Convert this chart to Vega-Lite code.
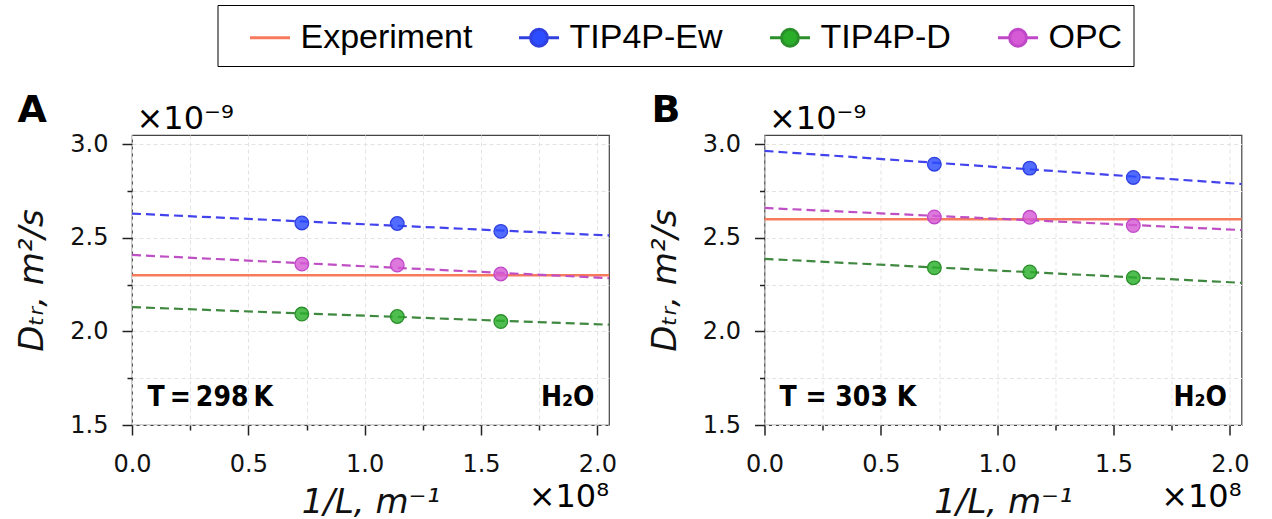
{
  "$schema": "https://vega.github.io/schema/vega-lite/v6.json",
  "background": "white",
  "padding": {"left": 15, "top": 4, "right": 5, "bottom": 0},
  "datasets": {
    "points": [
      {"panel": "A", "model": "TIP4P-Ew", "x": 0.73, "y": 2.58},
      {"panel": "A", "model": "TIP4P-Ew", "x": 1.14, "y": 2.577},
      {"panel": "A", "model": "TIP4P-Ew", "x": 1.585, "y": 2.535},
      {"panel": "A", "model": "OPC", "x": 0.73, "y": 2.36},
      {"panel": "A", "model": "OPC", "x": 1.14, "y": 2.355},
      {"panel": "A", "model": "OPC", "x": 1.585, "y": 2.307},
      {"panel": "A", "model": "TIP4P-D", "x": 0.73, "y": 2.093},
      {"panel": "A", "model": "TIP4P-D", "x": 1.14, "y": 2.08},
      {"panel": "A", "model": "TIP4P-D", "x": 1.585, "y": 2.053},
      {"panel": "B", "model": "TIP4P-Ew", "x": 0.73, "y": 2.894},
      {"panel": "B", "model": "TIP4P-Ew", "x": 1.14, "y": 2.873},
      {"panel": "B", "model": "TIP4P-Ew", "x": 1.585, "y": 2.823},
      {"panel": "B", "model": "OPC", "x": 0.73, "y": 2.612},
      {"panel": "B", "model": "OPC", "x": 1.14, "y": 2.61},
      {"panel": "B", "model": "OPC", "x": 1.585, "y": 2.566},
      {"panel": "B", "model": "TIP4P-D", "x": 0.73, "y": 2.34},
      {"panel": "B", "model": "TIP4P-D", "x": 1.14, "y": 2.318},
      {"panel": "B", "model": "TIP4P-D", "x": 1.585, "y": 2.287}
    ],
    "fits": [
      {"panel": "A", "model": "TIP4P-Ew", "x": 0, "y": 2.63},
      {"panel": "A", "model": "TIP4P-Ew", "x": 2.05, "y": 2.513},
      {"panel": "A", "model": "OPC", "x": 0, "y": 2.409},
      {"panel": "A", "model": "OPC", "x": 2.05, "y": 2.285},
      {"panel": "A", "model": "TIP4P-D", "x": 0, "y": 2.13},
      {"panel": "A", "model": "TIP4P-D", "x": 2.05, "y": 2.036},
      {"panel": "B", "model": "TIP4P-Ew", "x": 0, "y": 2.965},
      {"panel": "B", "model": "TIP4P-Ew", "x": 2.05, "y": 2.788},
      {"panel": "B", "model": "OPC", "x": 0, "y": 2.66},
      {"panel": "B", "model": "OPC", "x": 2.05, "y": 2.542},
      {"panel": "B", "model": "TIP4P-D", "x": 0, "y": 2.388},
      {"panel": "B", "model": "TIP4P-D", "x": 2.05, "y": 2.26}
    ],
    "experiment": [
      {"panel": "A", "y": 2.3},
      {"panel": "B", "y": 2.6}
    ],
    "labels": [
      {"panel": "A", "letter": "A", "temp": "T\u2009=\u2009298\u2009K", "sample": "H₂O", "xm": "×10⁸", "ym": "×10⁻⁹"},
      {"panel": "B", "letter": "B", "temp": "T = 303 K", "sample": "H₂O", "xm": "×10⁸", "ym": "×10⁻⁹"}
    ]
  },
  "spacing": 155.5,
  "bounds": "flush",
  "resolve": {
    "scale": {"fill": "shared", "stroke": "shared", "shape": "shared", "color": "shared"},
    "legend": {"fill": "shared", "stroke": "shared", "shape": "shared"}
  },
  "hconcat": [
    {
      "width": 477,
      "height": 290,
      "layer": [
        {
          "data": {"name": "experiment"},
          "transform": [{"filter": "datum.panel == 'A'"}],
          "mark": {"type": "rule", "color": "#f87a5c", "strokeWidth": 2.5},
          "encoding": {
            "y": {"field": "y", "type": "quantitative", "scale": {"domain": [1.5, 3.05], "nice": false, "zero": false}}
          }
        },
        {
          "data": {"name": "fits"},
          "transform": [{"filter": "datum.panel == 'A'"}],
          "mark": {"type": "line", "strokeDash": [9, 5], "strokeWidth": 2.2},
          "encoding": {
            "x": {"field": "x", "type": "quantitative", "scale": {"domain": [0, 2.05], "nice": false, "zero": false},
              "axis": {"values": [0, 0.25, 0.5, 0.75, 1, 1.25, 1.5, 1.75, 2], "labelExpr": "(datum.value*2)%1==0 ? format(datum.value,'.1f') : ''",
                "tickSize": {"condition": {"test": "(datum.value*2)%1!=0", "value": 5}, "value": 10},
                "labelPadding": 17, "labelOverlap": false, "labelFlush": false, "title": "1/L, m⁻¹", "titleFontSize": 34, "titlePadding": 9}},
            "y": {"field": "y", "type": "quantitative", "scale": {"domain": [1.5, 3.05], "nice": false, "zero": false},
              "axis": {"values": [1.5, 1.75, 2, 2.25, 2.5, 2.75, 3], "labelExpr": "(datum.value*2)%1==0 ? format(datum.value,'.1f') : ''",
                "tickSize": {"condition": {"test": "(datum.value*2)%1!=0", "value": 5}, "value": 10},
                "labelPadding": 14, "labelOverlap": false, "labelFlush": false, "title": "Dₜᵣ, m²/s", "titleFontSize": 34, "titlePadding": 20}},
            "color": {"field": "model", "type": "nominal", "scale": {"domain": ["TIP4P-Ew", "TIP4P-D", "OPC"], "range": ["#4343ee", "#3f883f", "#bf4fc4"]}, "legend": null},
            "detail": {"field": "model"}
          }
        },
        {
          "data": {"name": "points"},
          "transform": [{"filter": "datum.panel == 'A'"}],
          "mark": {"type": "point", "filled": true, "size": 185, "strokeWidth": 1.3, "fillOpacity": 0.82},
          "encoding": {
            "x": {"field": "x", "type": "quantitative", "scale": {"domain": [0, 2.05], "nice": false, "zero": false}},
            "y": {"field": "y", "type": "quantitative", "scale": {"domain": [1.5, 3.05], "nice": false, "zero": false}},
            "fill": {"field": "model", "type": "nominal", "scale": {"domain": ["Experiment", "TIP4P-Ew", "TIP4P-D", "OPC"], "range": ["#f87a5c", "#2b4cff", "#2aae2a", "#d65ad6"]}},
            "stroke": {"field": "model", "type": "nominal", "scale": {"domain": ["Experiment", "TIP4P-Ew", "TIP4P-D", "OPC"], "range": ["#f87a5c", "#3040e0", "#2a8f2a", "#c048c8"]}}
          }
        },
        {
          "data": {"values": []},
          "mark": {"type": "point", "filled": true, "strokeWidth": 3},
          "encoding": {
            "fill": {"field": "model", "type": "nominal", "scale": {"domain": ["Experiment", "TIP4P-Ew", "TIP4P-D", "OPC"], "range": ["#f87a5c", "#2b4cff", "#2aae2a", "#d65ad6"]},
              "legend": {"orient": "none", "legendX": 85.5, "legendY": -130, "direction": "horizontal", "title": null, "strokeColor": "black", "padding": 11, "symbolOffset": 20, "columnPadding": 25, "labelOffset": 9, "labelFont": "Liberation Sans", "labelFontSize": 34, "labelColor": "black", "symbolSize": 1600, "symbolStrokeWidth": 3, "symbolOpacity": 1, "labelLimit": 400}},
            "stroke": {"field": "model", "type": "nominal", "scale": {"domain": ["Experiment", "TIP4P-Ew", "TIP4P-D", "OPC"], "range": ["#f87a5c", "#3040e0", "#2a8f2a", "#c048c8"]},
              "legend": {"orient": "none", "legendX": 85.5, "legendY": -130, "direction": "horizontal", "title": null, "strokeColor": "black", "padding": 11, "symbolOffset": 20, "columnPadding": 25, "labelOffset": 9, "labelFont": "Liberation Sans", "labelFontSize": 34, "labelColor": "black", "symbolSize": 1600, "symbolStrokeWidth": 3, "symbolOpacity": 1, "labelLimit": 400}},
            "shape": {"field": "model", "type": "nominal", "scale": {"domain": ["Experiment", "TIP4P-Ew", "TIP4P-D", "OPC"], "range": ["M-1,0L1,0", "M-1,0L-0.42,0M0.42,0L1,0M-0.42,0A0.42,0.42,0,1,1,0.42,0A0.42,0.42,0,1,1,-0.42,0Z", "M-1,0L-0.42,0M0.42,0L1,0M-0.42,0A0.42,0.42,0,1,1,0.42,0A0.42,0.42,0,1,1,-0.42,0Z", "M-1,0L-0.42,0M0.42,0L1,0M-0.42,0A0.42,0.42,0,1,1,0.42,0A0.42,0.42,0,1,1,-0.42,0Z"]},
              "legend": {"orient": "none", "legendX": 85.5, "legendY": -130, "direction": "horizontal", "title": null, "strokeColor": "black", "padding": 11, "symbolOffset": 20, "columnPadding": 25, "labelOffset": 9, "labelFont": "Liberation Sans", "labelFontSize": 34, "labelColor": "black", "symbolSize": 1600, "symbolStrokeWidth": 3, "symbolOpacity": 1, "labelLimit": 400}}
          }
        },
        {
          "data": {"name": "labels"},
          "transform": [{"filter": "datum.panel == 'A'"}],
          "mark": {"type": "text", "align": "left", "baseline": "alphabetic", "dx": -114.5, "dy": -13, "font": "DejaVu Sans", "fontSize": 38, "fontWeight": "bold", "color": "black"},
          "encoding": {
            "x": {"datum": 0, "type": "quantitative", "scale": {"domain": [0, 2.05], "nice": false, "zero": false}},
            "y": {"datum": 3.05, "type": "quantitative", "scale": {"domain": [1.5, 3.05], "nice": false, "zero": false}},
            "text": {"field": "letter"}
          }
        },
        {
          "data": {"name": "labels"},
          "transform": [{"filter": "datum.panel == 'A'"}],
          "mark": {"type": "text", "align": "left", "baseline": "alphabetic", "dx": 4.5, "dy": -6, "font": "DejaVu Sans", "fontSize": 32, "color": "black"},
          "encoding": {
            "x": {"datum": 0, "type": "quantitative", "scale": {"domain": [0, 2.05], "nice": false, "zero": false}},
            "y": {"datum": 3.05, "type": "quantitative", "scale": {"domain": [1.5, 3.05], "nice": false, "zero": false}},
            "text": {"field": "ym"}
          }
        },
        {
          "data": {"name": "labels"},
          "transform": [{"filter": "datum.panel == 'A'"}],
          "mark": {"type": "text", "align": "right", "baseline": "alphabetic", "dx": 0, "dy": 82, "font": "DejaVu Sans", "fontSize": 32, "color": "black"},
          "encoding": {
            "x": {"datum": 2.05, "type": "quantitative", "scale": {"domain": [0, 2.05], "nice": false, "zero": false}},
            "y": {"datum": 1.5, "type": "quantitative", "scale": {"domain": [1.5, 3.05], "nice": false, "zero": false}},
            "text": {"field": "xm"}
          }
        },
        {
          "data": {"name": "labels"},
          "transform": [{"filter": "datum.panel == 'A'"}],
          "mark": {"type": "text", "align": "left", "baseline": "alphabetic", "dx": 15.5, "dy": -19, "font": "DejaVu Sans Condensed", "fontSize": 28, "fontWeight": "bold", "color": "black"},
          "encoding": {
            "x": {"datum": 0, "type": "quantitative", "scale": {"domain": [0, 2.05], "nice": false, "zero": false}},
            "y": {"datum": 1.5, "type": "quantitative", "scale": {"domain": [1.5, 3.05], "nice": false, "zero": false}},
            "text": {"field": "temp"}
          }
        },
        {
          "data": {"name": "labels"},
          "transform": [{"filter": "datum.panel == 'A'"}],
          "mark": {"type": "text", "align": "right", "baseline": "alphabetic", "dx": -14.5, "dy": -19, "font": "DejaVu Sans Condensed", "fontSize": 28, "fontWeight": "bold", "color": "black"},
          "encoding": {
            "x": {"datum": 2.05, "type": "quantitative", "scale": {"domain": [0, 2.05], "nice": false, "zero": false}},
            "y": {"datum": 1.5, "type": "quantitative", "scale": {"domain": [1.5, 3.05], "nice": false, "zero": false}},
            "text": {"field": "sample"}
          }
        }
      ]
    },
    {
      "width": 477,
      "height": 290,
      "layer": [
        {
          "data": {"name": "experiment"},
          "transform": [{"filter": "datum.panel == 'B'"}],
          "mark": {"type": "rule", "color": "#f87a5c", "strokeWidth": 2.5},
          "encoding": {
            "y": {"field": "y", "type": "quantitative", "scale": {"domain": [1.5, 3.05], "nice": false, "zero": false}}
          }
        },
        {
          "data": {"name": "fits"},
          "transform": [{"filter": "datum.panel == 'B'"}],
          "mark": {"type": "line", "strokeDash": [9, 5], "strokeWidth": 2.2},
          "encoding": {
            "x": {"field": "x", "type": "quantitative", "scale": {"domain": [0, 2.05], "nice": false, "zero": false},
              "axis": {"values": [0, 0.25, 0.5, 0.75, 1, 1.25, 1.5, 1.75, 2], "labelExpr": "(datum.value*2)%1==0 ? format(datum.value,'.1f') : ''",
                "tickSize": {"condition": {"test": "(datum.value*2)%1!=0", "value": 5}, "value": 10},
                "labelPadding": 17, "labelOverlap": false, "labelFlush": false, "title": "1/L, m⁻¹", "titleFontSize": 34, "titlePadding": 9}},
            "y": {"field": "y", "type": "quantitative", "scale": {"domain": [1.5, 3.05], "nice": false, "zero": false},
              "axis": {"values": [1.5, 1.75, 2, 2.25, 2.5, 2.75, 3], "labelExpr": "(datum.value*2)%1==0 ? format(datum.value,'.1f') : ''",
                "tickSize": {"condition": {"test": "(datum.value*2)%1!=0", "value": 5}, "value": 10},
                "labelPadding": 14, "labelOverlap": false, "labelFlush": false, "title": "Dₜᵣ, m²/s", "titleFontSize": 34, "titlePadding": 20}},
            "color": {"field": "model", "type": "nominal", "scale": {"domain": ["TIP4P-Ew", "TIP4P-D", "OPC"], "range": ["#4343ee", "#3f883f", "#bf4fc4"]}, "legend": null},
            "detail": {"field": "model"}
          }
        },
        {
          "data": {"name": "points"},
          "transform": [{"filter": "datum.panel == 'B'"}],
          "mark": {"type": "point", "filled": true, "size": 185, "strokeWidth": 1.3, "fillOpacity": 0.82},
          "encoding": {
            "x": {"field": "x", "type": "quantitative", "scale": {"domain": [0, 2.05], "nice": false, "zero": false}},
            "y": {"field": "y", "type": "quantitative", "scale": {"domain": [1.5, 3.05], "nice": false, "zero": false}},
            "fill": {"field": "model", "type": "nominal", "scale": {"domain": ["Experiment", "TIP4P-Ew", "TIP4P-D", "OPC"], "range": ["#f87a5c", "#2b4cff", "#2aae2a", "#d65ad6"]}},
            "stroke": {"field": "model", "type": "nominal", "scale": {"domain": ["Experiment", "TIP4P-Ew", "TIP4P-D", "OPC"], "range": ["#f87a5c", "#3040e0", "#2a8f2a", "#c048c8"]}}
          }
        },
        {
          "data": {"name": "labels"},
          "transform": [{"filter": "datum.panel == 'B'"}],
          "mark": {"type": "text", "align": "left", "baseline": "alphabetic", "dx": -113, "dy": -13, "font": "DejaVu Sans", "fontSize": 38, "fontWeight": "bold", "color": "black"},
          "encoding": {
            "x": {"datum": 0, "type": "quantitative", "scale": {"domain": [0, 2.05], "nice": false, "zero": false}},
            "y": {"datum": 3.05, "type": "quantitative", "scale": {"domain": [1.5, 3.05], "nice": false, "zero": false}},
            "text": {"field": "letter"}
          }
        },
        {
          "data": {"name": "labels"},
          "transform": [{"filter": "datum.panel == 'B'"}],
          "mark": {"type": "text", "align": "left", "baseline": "alphabetic", "dx": 4.5, "dy": -6, "font": "DejaVu Sans", "fontSize": 32, "color": "black"},
          "encoding": {
            "x": {"datum": 0, "type": "quantitative", "scale": {"domain": [0, 2.05], "nice": false, "zero": false}},
            "y": {"datum": 3.05, "type": "quantitative", "scale": {"domain": [1.5, 3.05], "nice": false, "zero": false}},
            "text": {"field": "ym"}
          }
        },
        {
          "data": {"name": "labels"},
          "transform": [{"filter": "datum.panel == 'B'"}],
          "mark": {"type": "text", "align": "right", "baseline": "alphabetic", "dx": 0, "dy": 82, "font": "DejaVu Sans", "fontSize": 32, "color": "black"},
          "encoding": {
            "x": {"datum": 2.05, "type": "quantitative", "scale": {"domain": [0, 2.05], "nice": false, "zero": false}},
            "y": {"datum": 1.5, "type": "quantitative", "scale": {"domain": [1.5, 3.05], "nice": false, "zero": false}},
            "text": {"field": "xm"}
          }
        },
        {
          "data": {"name": "labels"},
          "transform": [{"filter": "datum.panel == 'B'"}],
          "mark": {"type": "text", "align": "left", "baseline": "alphabetic", "dx": 15, "dy": -19, "font": "DejaVu Sans Condensed", "fontSize": 28, "fontWeight": "bold", "color": "black"},
          "encoding": {
            "x": {"datum": 0, "type": "quantitative", "scale": {"domain": [0, 2.05], "nice": false, "zero": false}},
            "y": {"datum": 1.5, "type": "quantitative", "scale": {"domain": [1.5, 3.05], "nice": false, "zero": false}},
            "text": {"field": "temp"}
          }
        },
        {
          "data": {"name": "labels"},
          "transform": [{"filter": "datum.panel == 'B'"}],
          "mark": {"type": "text", "align": "right", "baseline": "alphabetic", "dx": -14.5, "dy": -19, "font": "DejaVu Sans Condensed", "fontSize": 28, "fontWeight": "bold", "color": "black"},
          "encoding": {
            "x": {"datum": 2.05, "type": "quantitative", "scale": {"domain": [0, 2.05], "nice": false, "zero": false}},
            "y": {"datum": 1.5, "type": "quantitative", "scale": {"domain": [1.5, 3.05], "nice": false, "zero": false}},
            "text": {"field": "sample"}
          }
        }
      ]
    }
  ],
  "config": {
    "view": {"stroke": "#444444", "strokeWidth": 1.2},
    "axis": {"labelFont": "DejaVu Sans", "labelFontSize": 24, "labelColor": "#111111", "titleFont": "DejaVu Sans", "titleFontStyle": "italic", "titleFontWeight": "normal", "titleColor": "#111111", "tickColor": "#222222", "tickWidth": 1.5, "gridColor": "#e3e3e3", "gridDash": [4, 3], "gridWidth": 1, "domain": false}
  }
}
